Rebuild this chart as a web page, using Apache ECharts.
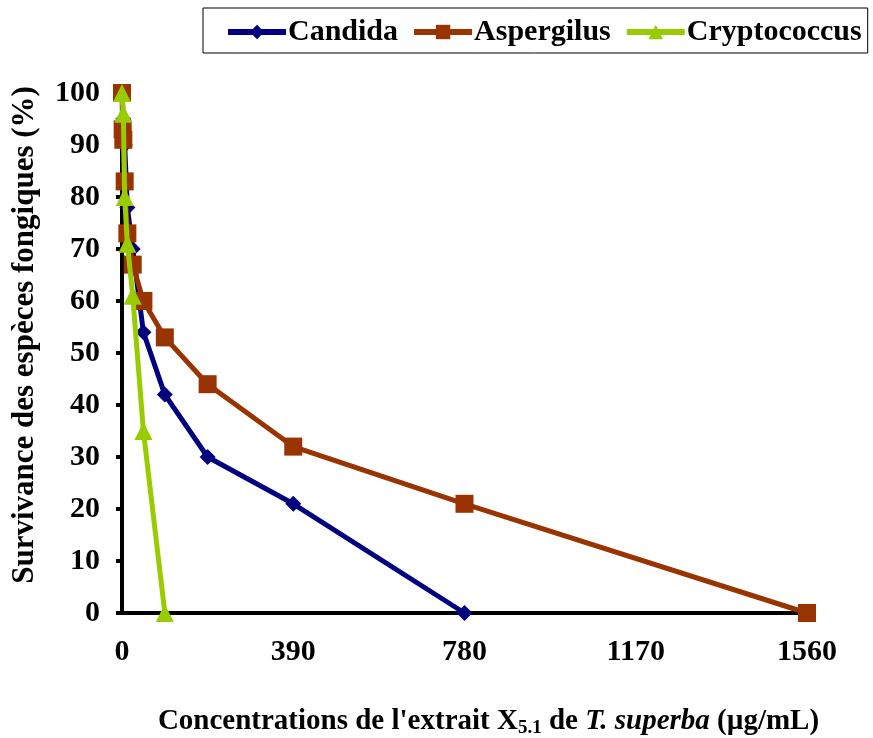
<!DOCTYPE html>
<html><head><meta charset="utf-8">
<script src="https://cdn.jsdelivr.net/npm/echarts@6/dist/echarts.min.js"></script>
<style>html,body{margin:0;padding:0;background:#fff}#c{width:873px;height:738px}</style>
</head><body><div id="c"></div>
<script>
const candidaX = [0, 3.05, 6.1, 12.2, 24.4, 48.75, 97.5, 195, 390, 780];
const candidaY = [100, 95, 90, 78, 70, 54, 42, 30, 21, 0];
const aspergilusX = [0, 1.5, 3.05, 6.1, 12.2, 24.4, 48.75, 97.5, 195, 390, 780, 1560];
const aspergilusY = [100, 93, 91, 83, 73, 67, 60, 53, 44, 32, 21, 0];
const cryptoX = [0, 3.05, 6.1, 12.2, 24.4, 48.75, 97.5];
const cryptoY = [100, 96, 80, 71, 61, 35, 0];
const xTicks = [0, 390, 780, 1170, 1560];
const yTicks = [0, 10, 20, 30, 40, 50, 60, 70, 80, 90, 100];

const F = '"Liberation Serif", "Times New Roman", serif';
const pair = (xs, ys) => xs.map((x, i) => [x, ys[i]]);
const chart = echarts.init(document.getElementById('c'));
chart.setOption({
  animation: false,
  textStyle: {fontFamily: F},
  grid: {left: 122, right: 66, top: 93, bottom: 125, containLabel: false, outerBoundsMode: 'none'},
  legend: {
    left: 203, top: 8, width: 660,
    padding: [9, 6, 6, 22],
    borderColor: '#000', borderWidth: 1,
    itemWidth: 58, itemHeight: 18, itemGap: 13,
    lineStyle: {width: 6},
    textStyle: {fontFamily: F, fontWeight: 'bold', fontSize: 30, color: '#000', padding: [0, 0, 0, -3]},
    data: ['Candida', 'Aspergilus', 'Cryptococcus']
  },
  xAxis: {
    type: 'value', min: xTicks[0], max: xTicks[xTicks.length - 1], interval: 390,
    axisLine: {onZero: false, lineStyle: {color: '#000', width: 4}},
    axisTick: {show: false},
    splitLine: {show: false},
    axisLabel: {fontFamily: F, fontWeight: 'bold', fontSize: 30, color: '#000', margin: 24,
      formatter: v => String(v)},
    name: "{a|Concentrations de l'extrait X}{s|5.1}{a| de }{i|T. superba}{a| (µg/mL)}",
    nameLocation: 'middle', nameGap: 92,
    nameTextStyle: {
      padding: [0, 0, 0, 48],
      rich: {
        a: {fontFamily: F, fontWeight: 'bold', fontSize: 29, color: '#000'},
        s: {fontFamily: F, fontWeight: 'bold', fontSize: 19, color: '#000', verticalAlign: 'bottom', padding: [14, 0, 0, 0]},
        i: {fontFamily: F, fontWeight: 'bold', fontStyle: 'italic', fontSize: 29, color: '#000'}
      }
    }
  },
  yAxis: {
    type: 'value', min: yTicks[0], max: yTicks[yTicks.length - 1], interval: 10,
    axisLine: {show: true, lineStyle: {color: '#000', width: 4}},
    axisTick: {show: true, length: 6, lineStyle: {color: '#000', width: 4}},
    splitLine: {show: false},
    axisLabel: {fontFamily: F, fontWeight: 'bold', fontSize: 30, color: '#000', margin: 22},
    name: 'Survivance des espèces fongiques (%)',
    nameLocation: 'middle', nameGap: 82,
    nameTextStyle: {fontFamily: F, fontWeight: 'bold', fontSize: 31, color: '#000', padding: [0, 0, 0, 36]}
  },
  series: [
    {name: 'Candida', type: 'line', data: pair(candidaX, candidaY), symbol: 'diamond', symbolSize: 16,
     lineStyle: {width: 5, color: '#000080'}, itemStyle: {color: '#000080'}, z: 2},
    {name: 'Aspergilus', type: 'line', data: pair(aspergilusX, aspergilusY), symbol: 'rect', symbolSize: 18,
     lineStyle: {width: 5, color: '#993300'}, itemStyle: {color: '#993300'}, z: 3},
    {name: 'Cryptococcus', type: 'line', data: pair(cryptoX, cryptoY), symbol: 'triangle', symbolSize: 18,
     lineStyle: {width: 5, color: '#99CC00'}, itemStyle: {color: '#99CC00'}, z: 4}
  ]
});
</script></body></html>
